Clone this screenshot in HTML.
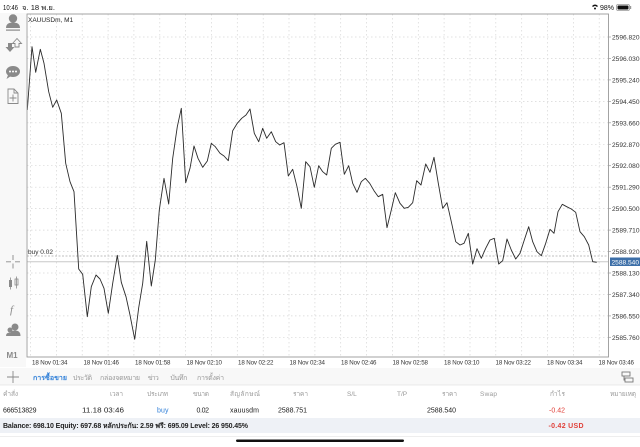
<!DOCTYPE html>
<html><head><meta charset="utf-8"><style>
html,body{margin:0;padding:0;background:#fff;}
svg{display:block;font-family:"Liberation Sans","DejaVu Sans","Noto Sans CJK SC",sans-serif;}
</style></head><body>
<svg width="640" height="447" viewBox="0 0 640 447" xmlns="http://www.w3.org/2000/svg">
<rect x="0" y="0" width="640" height="447" fill="#fff"/>
<!-- left sidebar -->
<rect x="0" y="13" width="26" height="354" fill="#f8f8f8"/>
<!-- status bar -->
<text x="3" y="10" font-size="7.5" fill="#111" textLength="15" lengthAdjust="spacingAndGlyphs">10:46</text>
<text x="22" y="10" font-size="7" fill="#111" textLength="33" lengthAdjust="spacingAndGlyphs">จ. 18 พ.ย.</text>
<g fill="#111">
<path d="M592 6 Q595 3 598 6 L597 7 Q595 5 593 7 Z"/>
<circle cx="595" cy="8.5" r="1"/>
</g>
<text x="600" y="10" font-size="7" fill="#111">98%</text>
<rect x="616.5" y="4.5" width="13" height="6" rx="1.5" fill="none" stroke="#999" stroke-width="0.8"/>
<rect x="617.5" y="5.5" width="11" height="4" rx="1" fill="#111"/>
<rect x="630" y="6" width="1.2" height="3" fill="#999"/>

<!-- chart frame area -->
<rect x="27" y="14" width="581.5" height="343" fill="#fff"/>
<!-- grid horizontal -->
<g stroke="#d6d6d6" stroke-width="0.7" stroke-dasharray="1.5,2.5">
<line x1="27" y1="37" x2="608" y2="37"/>
<line x1="27" y1="58.5" x2="608" y2="58.5"/>
<line x1="27" y1="79.9" x2="608" y2="79.9"/>
<line x1="27" y1="101.4" x2="608" y2="101.4"/>
<line x1="27" y1="122.8" x2="608" y2="122.8"/>
<line x1="27" y1="144.3" x2="608" y2="144.3"/>
<line x1="27" y1="165.7" x2="608" y2="165.7"/>
<line x1="27" y1="187.2" x2="608" y2="187.2"/>
<line x1="27" y1="208.6" x2="608" y2="208.6"/>
<line x1="27" y1="230.1" x2="608" y2="230.1"/>
<line x1="27" y1="251.5" x2="608" y2="251.5"/>
<line x1="27" y1="273" x2="608" y2="273"/>
<line x1="27" y1="294.4" x2="608" y2="294.4"/>
<line x1="27" y1="315.9" x2="608" y2="315.9"/>
<line x1="27" y1="337.3" x2="608" y2="337.3"/>
</g>
<!-- grid vertical -->
<g stroke="#d6d6d6" stroke-width="0.7" stroke-dasharray="1.5,2.5">
<line x1="30.5" y1="14" x2="30.5" y2="357"/>
<line x1="56.4" y1="14" x2="56.4" y2="357"/>
<line x1="82.2" y1="14" x2="82.2" y2="357"/>
<line x1="108.1" y1="14" x2="108.1" y2="357"/>
<line x1="133.9" y1="14" x2="133.9" y2="357"/>
<line x1="159.8" y1="14" x2="159.8" y2="357"/>
<line x1="185.6" y1="14" x2="185.6" y2="357"/>
<line x1="211.5" y1="14" x2="211.5" y2="357"/>
<line x1="237.3" y1="14" x2="237.3" y2="357"/>
<line x1="263.2" y1="14" x2="263.2" y2="357"/>
<line x1="289" y1="14" x2="289" y2="357"/>
<line x1="314.9" y1="14" x2="314.9" y2="357"/>
<line x1="340.7" y1="14" x2="340.7" y2="357"/>
<line x1="366.6" y1="14" x2="366.6" y2="357"/>
<line x1="392.4" y1="14" x2="392.4" y2="357"/>
<line x1="418.3" y1="14" x2="418.3" y2="357"/>
<line x1="444.1" y1="14" x2="444.1" y2="357"/>
<line x1="470" y1="14" x2="470" y2="357"/>
<line x1="495.8" y1="14" x2="495.8" y2="357"/>
<line x1="521.7" y1="14" x2="521.7" y2="357"/>
<line x1="547.5" y1="14" x2="547.5" y2="357"/>
<line x1="573.4" y1="14" x2="573.4" y2="357"/>
<line x1="599.2" y1="14" x2="599.2" y2="357"/>
</g>
<!-- buy line and price line -->
<line x1="27" y1="256" x2="608" y2="256" stroke="#aaa" stroke-width="0.8" stroke-dasharray="2,1.5"/>
<line x1="27" y1="261.8" x2="608" y2="261.8" stroke="#c8c8c8" stroke-width="1"/>
<text x="28" y="254" font-size="6.5" fill="#333">buy 0.02</text>
<text x="28" y="22" font-size="6.5" fill="#222">XAUUSDm, M1</text>

<!-- price line -->
<polyline fill="none" stroke="#2b2b2b" stroke-width="0.9" stroke-linejoin="round" points="27.3,110 32,46.7 35.7,72.3 40.3,49.3 44,63.3 48.7,91.7 52.7,107.3 56.7,100 61.3,113.3 65.7,163.3 70,181.7 74,191.7 78.7,269 82.7,274.3 87.3,316.7 91.3,286.7 96,275 100,279 104,288.3 108.3,313.3 112.7,283.3 117.3,255.3 121.3,282.3 126,296.7 130,315 134.7,339.3 138.7,307.7 142.7,283.3 146.7,241.3 151.3,286 155.3,260 159.3,210 164,178.3 168.7,204 172.7,158.3 177.3,126.7 181.3,108.3 185.7,182.7 190,168.3 194,146 198,158.3 202.7,167.3 207.3,161 211.3,143.3 215.3,146.7 220,153.3 224,156 228.3,160.7 232.7,130.7 237.3,123.3 241.7,118.3 246,115 250,109 254.3,133.3 258.7,141.7 262.7,128.3 266.7,138.3 271.3,131.7 275.7,141.7 279.7,145 284,142.7 288.3,176 292.7,169.3 297,186.7 301.3,208.3 305.7,161.7 310,166.7 314.3,187.3 318.7,165.7 322.7,171.7 326.7,175 331.3,148.3 335.3,144.3 340,142.3 344.3,174.3 348.7,165.7 352.7,183.3 357,192.3 361.3,181.7 365.3,178.3 369.7,183.3 374,190.7 378.3,196.7 382.7,194.3 387,227.7 391.3,210 395.3,192.7 400,203.3 404.3,208.3 408.3,207.3 412.7,202.7 416.7,180.7 421,185 425.7,164 430,172.3 434,157.3 438.3,183.3 442.7,208.3 447,202.7 451.3,221.7 455.7,241.7 460,245 464,243.3 468.3,233.3 472.7,264 477,248.7 481.3,258.3 485.7,248.3 490,240 494.3,238.3 498.7,264 502.7,260.7 507,239 511.3,250 515.7,259 520,253.3 524.3,240 528.7,226.7 532.7,241.7 537,251.7 541.3,255.7 545.7,243.3 550,229.3 554,233.3 558,211.7 562.3,204.3 566.7,206.7 571.3,209 575.7,212.3 580,231.7 584.3,236.7 588.7,245 592.7,261.7 596.7,262.3"/>

<!-- frame -->
<rect x="27" y="14" width="581.5" height="343" fill="none" stroke="#9a9a9a" stroke-width="0.9"/>

<!-- price labels -->
<g font-size="6.6" fill="#333">
<text x="612" y="39.5">2596.820</text>
<text x="612" y="61">2596.030</text>
<text x="612" y="82.4">2595.240</text>
<text x="612" y="103.9">2594.450</text>
<text x="612" y="125.3">2593.660</text>
<text x="612" y="146.8">2592.870</text>
<text x="612" y="168.2">2592.080</text>
<text x="612" y="189.7">2591.290</text>
<text x="612" y="211.1">2590.500</text>
<text x="612" y="232.6">2589.710</text>
<text x="612" y="254">2588.920</text>
<text x="612" y="275.5">2588.130</text>
<text x="612" y="296.9">2587.340</text>
<text x="612" y="318.4">2586.550</text>
<text x="612" y="339.8">2585.760</text>
</g>
<g stroke="#9a9a9a" stroke-width="0.7">
<line x1="608" y1="37" x2="611" y2="37"/><line x1="608" y1="58.5" x2="611" y2="58.5"/><line x1="608" y1="79.9" x2="611" y2="79.9"/><line x1="608" y1="101.4" x2="611" y2="101.4"/><line x1="608" y1="122.8" x2="611" y2="122.8"/><line x1="608" y1="144.3" x2="611" y2="144.3"/><line x1="608" y1="165.7" x2="611" y2="165.7"/><line x1="608" y1="187.2" x2="611" y2="187.2"/><line x1="608" y1="208.6" x2="611" y2="208.6"/><line x1="608" y1="230.1" x2="611" y2="230.1"/><line x1="608" y1="251.5" x2="611" y2="251.5"/><line x1="608" y1="273" x2="611" y2="273"/><line x1="608" y1="294.4" x2="611" y2="294.4"/><line x1="608" y1="315.9" x2="611" y2="315.9"/><line x1="608" y1="337.3" x2="611" y2="337.3"/>
</g>
<rect x="610" y="257.5" width="30" height="8.5" fill="#3d6fa8"/>
<text x="611.5" y="264.3" font-size="6.6" fill="#fff">2588.540</text>

<!-- time labels -->
<g font-size="6.2" fill="#333">
<text x="32" y="364.5" textLength="35.5">18 Nov 01:34</text>
<text x="83.5" y="364.5" textLength="35.5">18 Nov 01:46</text>
<text x="135" y="364.5" textLength="35.5">18 Nov 01:58</text>
<text x="186.5" y="364.5" textLength="35.5">18 Nov 02:10</text>
<text x="238" y="364.5" textLength="35.5">18 Nov 02:22</text>
<text x="289.5" y="364.5" textLength="35.5">18 Nov 02:34</text>
<text x="341" y="364.5" textLength="35.5">18 Nov 02:46</text>
<text x="392.5" y="364.5" textLength="35.5">18 Nov 02:58</text>
<text x="444" y="364.5" textLength="35.5">18 Nov 03:10</text>
<text x="495.5" y="364.5" textLength="35.5">18 Nov 03:22</text>
<text x="547" y="364.5" textLength="35.5">18 Nov 03:34</text>
<text x="598.5" y="364.5" textLength="35.5">18 Nov 03:46</text>
</g>

<!-- left toolbar icons -->
<g fill="#8a8a8a" stroke="none">
<circle cx="13" cy="18.5" r="4.2"/>
<path d="M6 28 Q6 22.5 13 22.5 Q20 22.5 20 28 Z"/>
<rect x="6" y="29.5" width="14" height="1.2"/>
<path d="M8 43 h4 v4 h2.5 l-4.5 5 l-4.5 -5 h2.5 z"/>
<path d="M15 47 v-3.5 h-2.5 l4.5 -5 l4.5 5 h-2.5 v3.5 z" fill="none" stroke="#8a8a8a" stroke-width="0.9"/>
<ellipse cx="13" cy="71.5" rx="7" ry="5.5"/>
<path d="M8 75 L6.5 79 L11 76 Z"/>
</g>
<g fill="#fff"><circle cx="10" cy="71.5" r="1"/><circle cx="13" cy="71.5" r="1"/><circle cx="16" cy="71.5" r="1"/></g>
<g fill="none" stroke="#8a8a8a" stroke-width="0.9">
<path d="M8 89 h6 l4 4 v10.5 h-10 z"/>
<path d="M14 89 v4 h4"/>
<path d="M13 94.5 v7 M9.5 98 h7"/>
<path d="M13 255 v5 M13 263.5 v5 M6 261.8 h5 M15 261.8 h5"/>
</g>
<g fill="#8a8a8a">
<rect x="9" y="280" width="3" height="7"/><rect x="10.2" y="277.5" width="0.8" height="12"/>
<rect x="15" y="279" width="3" height="6" fill="none" stroke="#8a8a8a" stroke-width="0.8"/><rect x="16.1" y="276.5" width="0.8" height="12"/>
<text x="10" y="313" font-size="11" font-style="italic" font-family="Liberation Serif,serif" fill="#8a8a8a">f</text>
<circle cx="15" cy="327" r="3.5"/>
<path d="M9.5 336 Q9.5 330.5 15 330.5 Q20.5 330.5 20.5 336 Z"/>
<circle cx="10" cy="330" r="2.5"/>
<path d="M6 336 Q6 332.5 10 332.5 L11 336 Z"/>
<text x="6.5" y="358" font-size="8" font-weight="bold" fill="#8a8a8a">M1</text>
</g>

<!-- bottom panel -->
<rect x="0" y="368" width="640" height="17" fill="#f8f8f8"/>
<line x1="0" y1="385" x2="640" y2="385" stroke="#e4e4e4" stroke-width="0.8"/>
<path d="M13 371 v12 M7 377 h12" stroke="#888" stroke-width="0.9"/>
<g font-size="7" fill="#999">
<text x="33" y="380" fill="#2f7fd8" font-weight="bold" textLength="34">การซื้อขาย</text>
<text x="73" y="380" textLength="19">ประวัติ</text>
<text x="100" y="380" textLength="40">กล่องจดหมาย</text>
<text x="147" y="380" textLength="11">ข่าว</text>
<text x="170" y="380" textLength="17">บันทึก</text>
<text x="197" y="380" textLength="27">การตั้งค่า</text>
</g>
<g fill="none" stroke="#777" stroke-width="0.9">
<rect x="622" y="372" width="8" height="4"/>
<rect x="625" y="378" width="8" height="4"/>
<path d="M624 376 v4 h1"/>
</g>

<g font-size="6.5" fill="#9a9a9a">
<text x="3" y="396" textLength="15">คำสั่ง</text>
<text x="110" y="396" textLength="13">เวลา</text>
<text x="147" y="396" textLength="21">ประเภท</text>
<text x="193" y="396" textLength="16">ขนาด</text>
<text x="230" y="396" textLength="30">สัญลักษณ์</text>
<text x="293" y="396" textLength="15">ราคา</text>
<text x="347" y="396">S/L</text>
<text x="397" y="396">T/P</text>
<text x="442" y="396" textLength="15">ราคา</text>
<text x="480" y="396" textLength="17">Swap</text>
<text x="550" y="396" textLength="15">กำไร</text>
<text x="610" y="396" textLength="26">หมายเหตุ</text>
</g>

<g font-size="7" fill="#222">
<text x="3" y="412.5" textLength="33.5">666513829</text>
<text x="82" y="412.5" textLength="42" lengthAdjust="spacingAndGlyphs">11.18 03:46</text>
<text x="157" y="412.5" fill="#2f7fd8" textLength="11.5">buy</text>
<text x="196.5" y="412.5" textLength="12.5">0.02</text>
<text x="230" y="412.5" textLength="29">xauusdm</text>
<text x="278" y="412.5" textLength="29">2588.751</text>
<text x="427" y="412.5" textLength="29">2588.540</text>
<text x="549" y="412.5" fill="#e0413a" textLength="16">-0.42</text>
</g>

<rect x="0" y="418" width="640" height="15" fill="#eef1f6"/>
<text x="3" y="428" font-size="7" font-weight="bold" fill="#222" textLength="245">Balance: 698.10 Equity: 697.68 หลักประกัน: 2.59 ฟรี: 695.09 Level: 26 950.45%</text>
<text x="548.5" y="428" font-size="7" fill="#e0413a" font-weight="bold" textLength="35">-0.42  USD</text>
<line x1="0" y1="436.5" x2="640" y2="436.5" stroke="#e8e8e8" stroke-width="0.8"/>
<rect x="236" y="439.5" width="168" height="2.5" rx="1.2" fill="#111"/>
</svg>
</body></html>
